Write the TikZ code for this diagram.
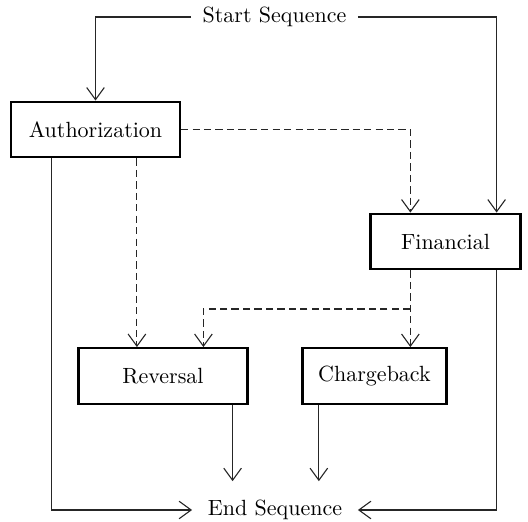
\documentclass[tikz,border=0pt]{standalone}
\usetikzlibrary{arrows.meta,calc}
\begin{document}
\begin{tikzpicture}[x=0.4545pt,y=-0.4545pt,
  box/.style={draw=black,line width=1pt,minimum height=25.3pt,inner sep=0pt},
  term/.style={inner ysep=2pt},
  flow/.style={draw=black!85,line width=0.5pt,-{Straight Barb[length=5.5pt,width=8pt]}},
  plain/.style={draw=black!85,line width=0.5pt},
  alt/.style={flow,dash pattern=on 3.3pt off 1.9pt},
  altline/.style={plain,dash pattern=on 3.3pt off 1.9pt}]
\useasboundingbox (0,0) rectangle (528,522);

% process boxes
\node[box,minimum width=76.8pt] (auth) at (95.5,129.5) {Authorization};
\node[box,minimum width=68.2pt] (fin) at (445.5,241.5) {Financial};
\node[box,minimum width=76.8pt] (rev) at (163,376) {Reversal};
\node[box,minimum width=65.5pt] (cb) at (374.5,376) {Chargeback};

% terminals
\node[term,inner xsep=5pt] (start) at (274.5,17) {Start Sequence};
\node[inner xsep=7pt,inner ysep=8.4pt] (end) at (275,510) {End Sequence};

% entry from the start
\draw[flow] (start.west) -| (auth.north);
\draw[flow] (start.east) -| ($(fin.north east)+(-25,0)$);

% optional paths (dashed)
\draw[alt] (auth.east) -| ($(fin.north west)+(41,0)$);
\coordinate (a1) at ($(auth.south west)+(127,0)$);
\draw[alt] (a1) -- (a1 |- rev.north);
\coordinate (f1) at ($(fin.south west)+(41,0)$);
\draw[alt] (f1) -- (f1 |- cb.north);
\coordinate (split) at (f1 |- 0,309);
\draw[alt] (split) -| ($(rev.north west)+(126,0)$);

% exits to the end
\draw[flow] ($(auth.south west)+(42,0)$) |- (end.west);
\draw[flow] ($(fin.south east)+(-25,0)$) |- (end.east);
\coordinate (r1) at ($(rev.south east)+(-16,0)$);
\draw[flow] (r1) -- (r1 |- end.north);
\coordinate (c1) at ($(cb.south west)+(17.5,0)$);
\draw[flow] (c1) -- (c1 |- end.north);
\end{tikzpicture}
\end{document}
